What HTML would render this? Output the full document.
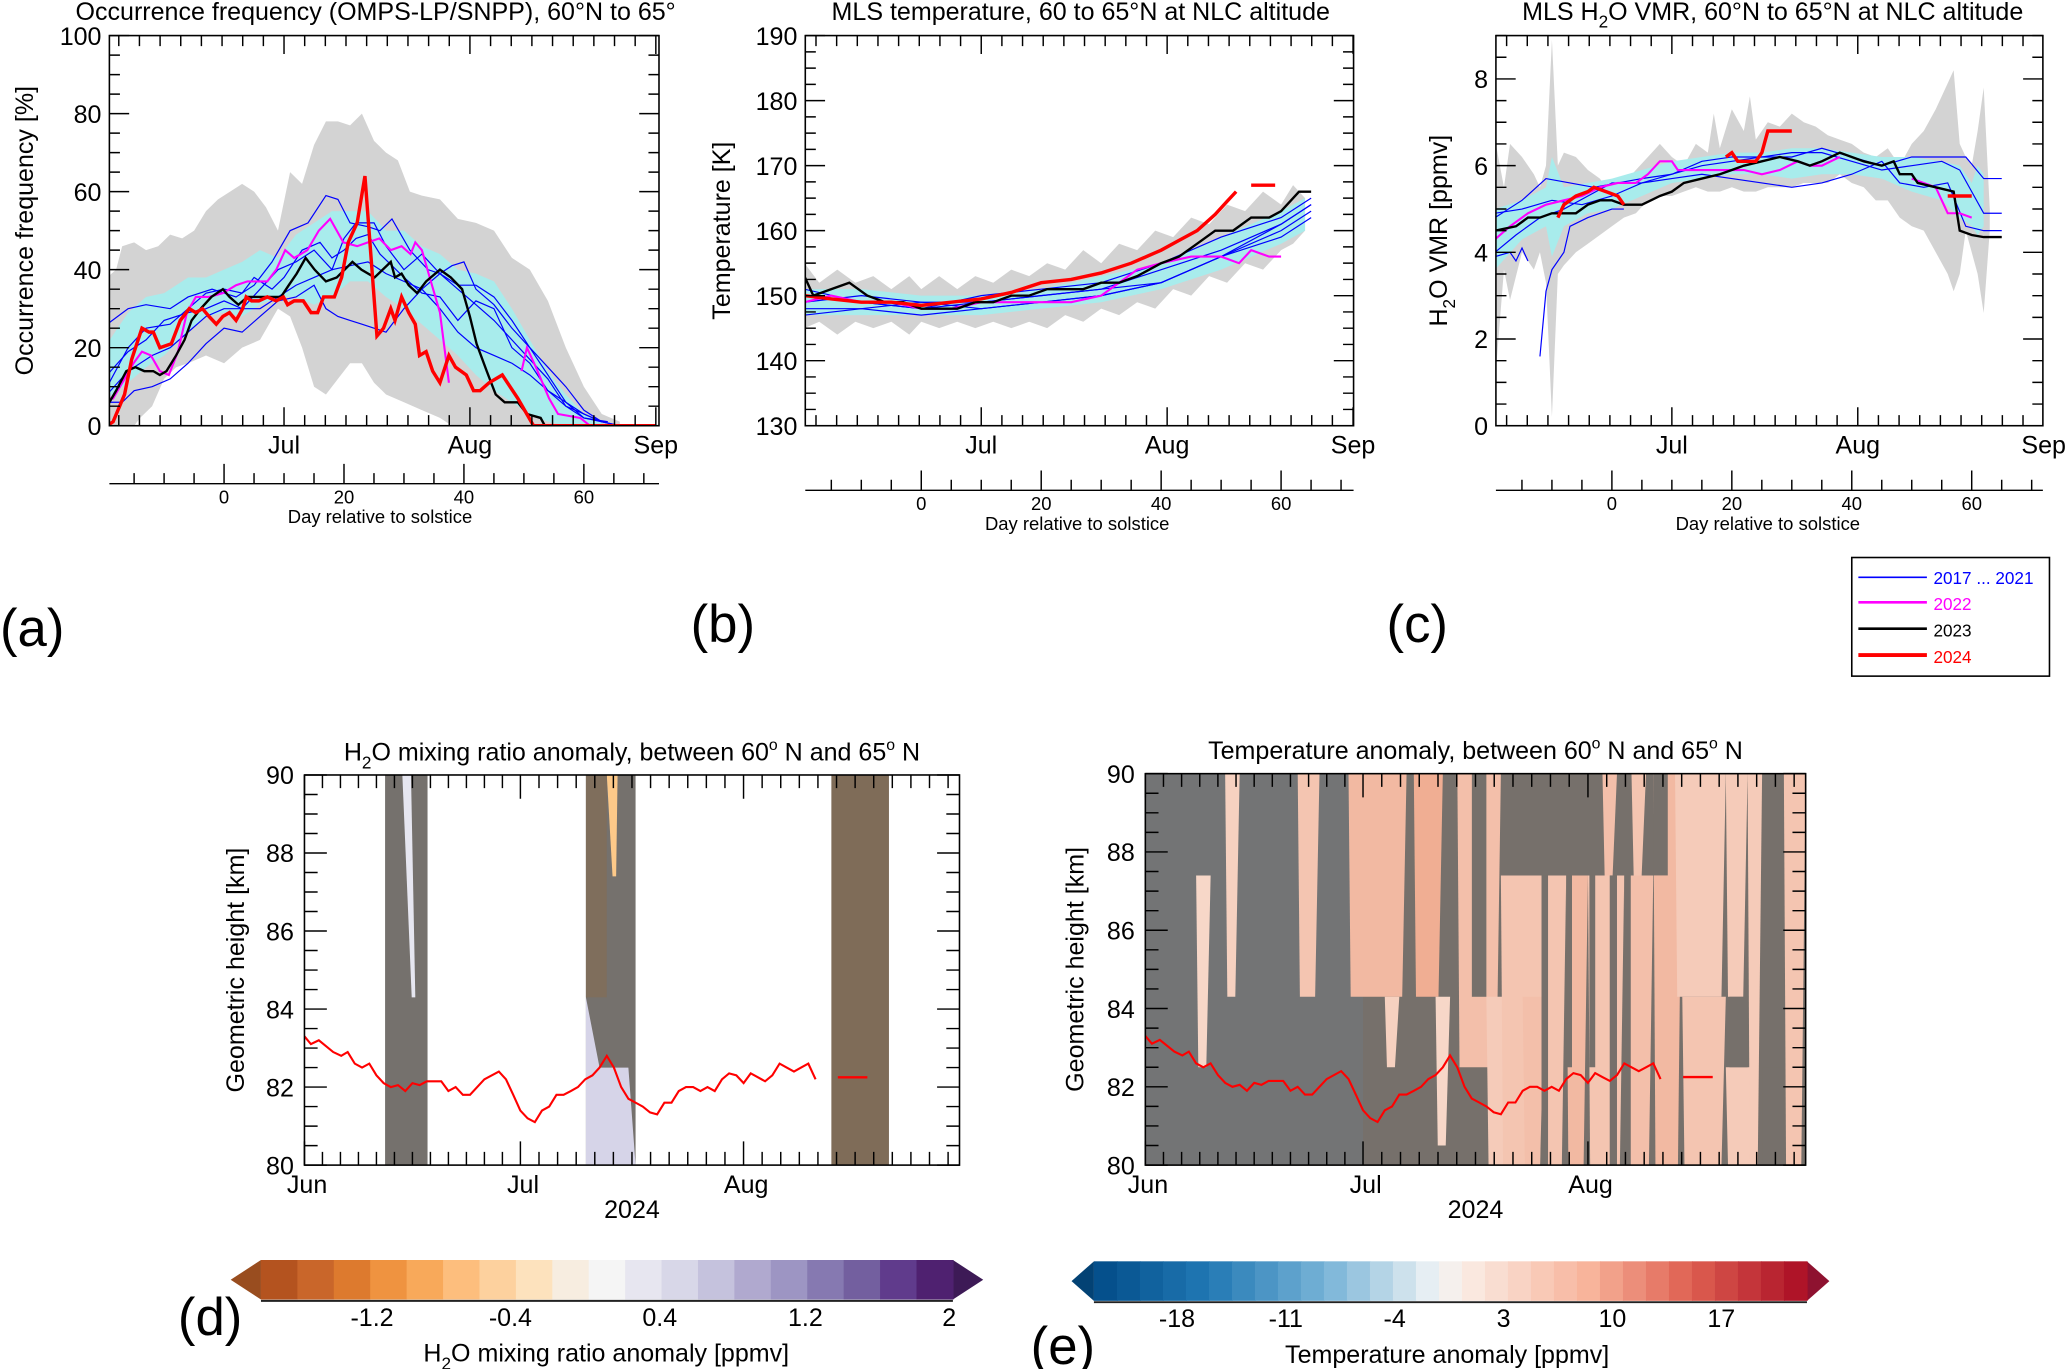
<!DOCTYPE html>
<html><head><meta charset="utf-8"><style>
html,body{margin:0;padding:0;background:#fff;}
svg{display:block;font-family:"Liberation Sans",sans-serif;}
</style></head><body>
<svg id="fig" width="2067" height="1369" viewBox="0 0 1568.3 1038.7" preserveAspectRatio="none" xmlns="http://www.w3.org/2000/svg">
<defs>
<clipPath id="ca"><rect x="83" y="27" width="417" height="296"/></clipPath>
<clipPath id="cb"><rect x="611" y="27" width="416" height="296"/></clipPath>
<clipPath id="cc"><rect x="1135" y="27" width="415" height="296"/></clipPath>
<clipPath id="cd"><rect x="231" y="588" width="497" height="296"/></clipPath>
<clipPath id="ce"><rect x="869" y="587" width="501" height="297"/></clipPath>
</defs>
<g id="root"></g>
<text x="0" y="490" font-size="40">(a)</text>
<text x="524" y="487" font-size="40">(b)</text>
<text x="1052" y="487" font-size="40">(c)</text>
<text x="135" y="1013" font-size="40">(d)</text>
<text x="782" y="1035" font-size="40">(e)</text>
<g>
<rect x="1405" y="423" width="150" height="90" fill="#fff" stroke="#000" stroke-width="1.2"/>
<line x1="1410" y1="438" x2="1462" y2="438" stroke="#0000ff" stroke-width="1.2"/>
<text x="1467" y="443" font-size="13" fill="#0000ff">2017 ... 2021</text>
<line x1="1410" y1="457" x2="1462" y2="457" stroke="#ff00ff" stroke-width="2"/>
<text x="1467" y="463" font-size="13" fill="#ff00ff">2022</text>
<line x1="1410" y1="477" x2="1462" y2="477" stroke="#000" stroke-width="2"/>
<text x="1467" y="483" font-size="13" fill="#000">2023</text>
<line x1="1410" y1="497" x2="1462" y2="497" stroke="#ff0000" stroke-width="3"/>
<text x="1467" y="503" font-size="13" fill="#ff0000">2024</text>
</g>
</svg>
<script>
// ---------- DATA ----------
const aRed=[[-19.5,0],[-18.5,1],[-16.6,8],[-15.4,17],[-13.7,25],[-12.5,24],[-11.8,24],[-10.7,20],[-8.8,21],[-7.3,27],[-5.8,30],[-4.7,29],[-3.6,30],[-2.5,28],[-1.3,26],[-0.2,28],[0.9,29],[2,27],[3.1,30],[3.7,33],[4.6,32],[5.8,32],[7.2,33],[8.7,32],[9.9,33],[10.6,31],[11.7,32],[13.2,32],[14.5,29],[15.6,29],[16.6,33],[18.4,33],[19.6,38],[20.7,47],[22.2,52],[23.5,64],[25.5,23],[26.6,25],[27.8,30],[28.5,27],[29.6,33],[30.8,29],[31.9,26],[32.6,18],[33.7,19],[34.8,14],[36,11],[37.5,18],[38.6,15],[40.4,13],[41.6,9],[42.7,9],[44.2,11],[46.4,13],[49,7],[51.6,0],[72,0]];
const aBlack=[[-19.5,5],[-18,9],[-16.3,14],[-14.8,15],[-13.3,14],[-11.8,14],[-10.7,13],[-9.6,14],[-8,18],[-6.6,22],[-5.4,27],[-3.9,30],[-2.1,33],[-0.2,35],[0.9,33],[2.4,31],[3.9,33],[9.5,33],[10.8,36],[12.1,39],[13.6,43],[15.1,40],[17,37],[18.8,38],[21.4,42],[22.9,40],[25.1,38],[27.8,42],[28.5,38],[29.6,39],[30.8,36],[32.2,34],[33.7,37],[36,40],[37.8,38],[39.7,35],[41,28],[42.1,21],[43.8,14],[45.3,8],[46.8,6],[49,6],[50.5,3],[52.8,2],[53.5,0]];
const aMag1=[[-19.5,7],[-18.5,7],[-16.6,12],[-15.1,16],[-13.7,19],[-12.2,18],[-10.7,14],[-9.2,13],[-7.7,19],[-6.2,29],[-4.7,33],[-2.5,33],[-0.2,34],[2,36],[3.9,37],[5.4,37],[7.2,37],[8.7,40],[10.2,45],[11.7,43],[13.9,45],[15.8,50],[17.7,53],[19.9,47],[22.2,46],[24,47],[25.9,48],[27.8,45],[29.6,46],[31.1,44],[31.9,47],[33,45],[34.1,39],[36,29],[37.5,11]];
const aMag2=[[49.6,14],[50.5,20],[52,15],[54.2,7],[55.7,3],[59.4,2],[61,0],[72,0]];
const aBlue=[
[[-19.5,26],[-16,30],[-13,31],[-9,30],[-6,33],[-2,35],[2,33],[5,36],[8,42],[11,50],[14,52],[17,59],[19,58],[21,52],[24,51],[26,50],[28,53],[31,45],[34,40],[36,39],[39,35],[42,31],[45,27],[48,22],[51,17],[54,12],[57,5],[60,3],[63,1],[66,0]],
[[-19.5,6],[-17,6],[-15,9],[-12,10],[-9,12],[-6,16],[-3,21],[0,25],[3,24],[6,28],[9,32],[12,33],[15,36],[17,30],[19,28],[21,27],[23,26],[25,25],[27,24],[30,30],[33,35],[36,39],[38,41],[40,42],[42,35],[45,31],[48,25],[51,20],[54,13],[57,6],[60,2],[63,1],[66,0]],
[[-19.5,10],[-16,20],[-13,25],[-9,26],[-6,30],[-3,34],[0,35],[3,34],[5,38],[8,35],[10,38],[13,45],[16,47],[18,43],[20,45],[22,48],[24,49],[26,44],[28,41],[30,38],[33,34],[36,33],[39,27],[42,32],[45,30],[48,20],[51,16],[54,9],[57,5],[60,2],[64,1]],
[[-19.5,13],[-16,19],[-13,22],[-10,27],[-6,29],[-3,30],[0,32],[3,30],[6,35],[9,40],[12,42],[15,45],[18,40],[20,48],[22,52],[25,52],[27,46],[30,40],[33,44],[36,39],[39,36],[42,36],[45,33],[48,27],[51,20],[54,15],[57,10],[60,4],[63,1]],
[[-19.5,8],[-16,14],[-12,18],[-9,20],[-6,24],[-3,28],[0,30],[3,30],[6,30],[9,33],[12,36],[15,38],[18,40],[21,41],[24,42],[27,39],[30,37],[33,35],[36,30],[39,24],[42,20],[45,18],[48,16],[51,13],[54,9],[57,6],[60,3],[63,1]]];
const aGrayUp=[[-19.5,38],[-18,40],[-17,46],[-15,47],[-13,45],[-11,46],[-9,49],[-7,48],[-5,50],[-3,55],[-1,58],[1,60],[3,62],[5,60],[7,56],[9,50],[11,65],[13,62],[15,72],[17,78],[19,78],[21,77],[23,80],[25,73],[27,70],[29,68],[31,60],[33,59],[36,58],[39,53],[42,52],[45,50],[48,43],[51,40],[54,32],[57,20],[60,10],[63,3],[66,1]];
const aGrayLo=[[-19.5,0],[-15,0],[-14,2],[-12,5],[-10,12],[-8,15],[-6,16],[-3,18],[0,16],[3,20],[6,22],[9,30],[11,28],[13,20],[15,10],[17,8],[19,12],[21,16],[23,16],[25,11],[27,8],[30,6],[33,4],[36,2],[38,0],[66,0]];
const aCyanUp=[[-19.5,21],[-16,29],[-13,33],[-10,34],[-6,38],[-3,38],[0,40],[3,42],[6,45],[9,43],[12,49],[15,52],[18,55],[21,55],[24,55],[27,50],[30,50],[33,46],[36,44],[39,40],[42,39],[45,37],[48,30],[51,22],[54,14],[57,8],[60,3],[63,1]];
const aCyanLo=[[-19.5,7],[-16,11],[-13,15],[-10,18],[-6,24],[-3,28],[0,29],[3,28],[6,31],[9,33],[12,33],[15,31],[18,33],[21,37],[24,37],[27,33],[30,30],[33,26],[36,22],[39,18],[42,13],[45,9],[48,6],[51,3],[54,1],[57,0],[63,0]];
const aYTicks=[0,20,40,60,80,100];
// Panel b
const bRed1=[[-19.5,150],[-15,149.5],[-10,149],[-5,149],[0,148.5],[5,149],[10,149.5],[15,150.5],[20,152],[25,152.5],[30,153.5],[35,155],[40,157],[43,158.5],[46,160],[49,162.5],[51,164.5],[52.5,166]];
const bRed2=[[55,167],[59,167]];
const bBlack=[[-19.5,153],[-18,150],[-15,151],[-12,152],[-9,150],[-6,149],[-3,149],[0,148],[3,148],[6,148],[9,149],[12,149],[15,150],[18,150],[21,151],[24,151],[27,151],[30,152],[33,152],[36,153],[40,155],[43,156],[46,158],[49,160],[52,160],[55,162],[58,162],[60,163],[63,166],[65,166]];
const bMag=[[-19.5,149],[-15,150],[-10,149],[-5,149],[0,148],[5,148],[10,149],[15,149],[20,149],[25,149],[30,150],[33,152],[36,154],[40,155],[45,156],[50,156],[53,155],[55,157],[58,156],[60,156]];
const bBlue=[
[[-19.5,147],[-10,148],[0,147],[10,148],[20,149],[30,150],[40,152],[50,156],[60,160],[65,163]],
[[-19.5,149],[-10,150],[0,149],[10,149],[20,150],[30,151],[40,154],[50,157],[60,161],[65,164]],
[[-19.5,151],[-10,149],[0,148],[10,150],[20,151],[30,152],[40,155],[50,159],[60,162],[65,165]],
[[-19.5,148],[-10,148],[0,149],[10,148],[20,149],[30,150],[40,152],[50,156],[60,159],[65,162]],
[[-19.5,150],[-10,149],[0,148],[10,149],[20,150],[30,151],[40,152],[50,156],[60,161],[65,164]]];
const bGrayUp=[[-19.5,155],[-17,152],[-14,154],[-11,152],[-8,153],[-5,151],[-2,153],[0,151],[3,153],[6,151],[9,153],[12,152],[15,154],[18,153],[21,155],[24,154],[27,157],[30,155],[33,158],[36,157],[39,160],[42,159],[45,162],[48,161],[51,164],[54,163],[57,166],[60,164],[62,167],[64,165]];
const bGrayLo=[[-19.5,145],[-17,146],[-14,144],[-11,146],[-8,145],[-5,146],[-2,144],[0,146],[3,145],[6,146],[9,145],[12,146],[15,145],[18,146],[21,145],[24,147],[27,146],[30,148],[33,147],[36,149],[39,148],[42,151],[45,150],[48,153],[51,152],[54,155],[57,154],[60,157],[62,158],[64,160]];
const bCyanUp=[[-19.5,151],[-10,151],[0,150],[10,150],[20,151],[30,153],[40,155],[50,159],[60,163],[64,165]];
const bCyanLo=[[-19.5,147],[-10,147],[0,147],[10,147],[20,148],[30,149],[40,151],[50,154],[60,158],[64,160]];
const bYTicks=[130,140,150,160,170,180,190];
// Panel c
const cRed=[[[-9,4.8],[-8,5.1],[-6,5.3],[-4,5.4],[-3,5.5],[-1,5.4],[1,5.3],[2,5.1]],[[19,6.2],[20,6.3],[21,6.1],[23,6.1],[24,6.1],[25,6.3],[26,6.8],[27,6.8],[30,6.8]],[[56,5.3],[60,5.3]]];
const cBlack=[[-19.5,4.5],[-16,4.6],[-14,4.8],[-12,4.8],[-10,4.9],[-8,4.9],[-6,4.9],[-4,5.1],[-2,5.2],[0,5.2],[2,5.1],[5,5.1],[8,5.3],[10,5.4],[12,5.6],[15,5.7],[18,5.8],[20,5.9],[22,6.0],[25,6.1],[28,6.2],[31,6.1],[33,6.0],[35,6.1],[38,6.3],[40,6.2],[42,6.1],[45,6.0],[47,6.1],[48,5.8],[50,5.8],[51,5.6],[54,5.5],[57,5.4],[58,4.5],[60,4.4],[62,4.35],[65,4.35]];
const cMag=[[[-19.5,4.3],[-17,4.6],[-14,4.9],[-11,5.1],[-8,5.2],[-5,5.3],[-2,5.5],[1,5.6],[4,5.6],[6,5.8],[8,6.1],[10,6.1],[11,5.9],[13,5.9],[16,5.9],[19,5.9],[22,5.9],[25,5.8],[28,5.9],[31,6.1],[33,6.0],[35,6.0],[38,6.2]],[[50,5.7],[52,5.6],[54,5.5],[56,4.9],[58,4.9],[60,4.8]]];
const cBlue=[
[[-19.5,4.8],[-15,5.2],[-11,5.7],[-7,5.6],[-3,5.5],[1,5.6],[5,5.7],[10,5.8],[15,6.1],[20,6.2],[25,6.2],[30,6.2],[35,6.4],[40,6.2],[45,6.0],[50,6.2],[55,6.2],[59,6.2],[62,5.7],[65,5.7]],
[[-19.5,4.0],[-16,4.4],[-12,4.8],[-8,5.0],[-4,5.3],[0,5.6],[5,5.6],[10,5.8],[15,6.0],[20,6.1],[25,6.2],[30,6.3],[35,6.3],[40,6.1],[45,5.9],[50,6.0],[55,6.1],[58,5.9],[62,4.9],[65,4.9]],
[[-12,1.6],[-11,3.1],[-10,3.6],[-8,4.0],[-7,4.6],[-4,4.8],[0,5.0],[2,5.0]],
[[-19.5,3.9],[-17,4.0],[-16,3.8],[-15,4.1],[-14,3.8]],
[[-19.5,4.9],[-15,5.0],[-10,5.2],[-5,5.1],[0,5.3],[5,5.6],[10,5.7],[15,5.8],[20,5.7],[25,5.6],[30,5.5],[35,5.6],[40,5.8],[45,6.1],[48,5.6],[52,5.5],[56,5.6],[59,4.6],[62,4.5],[65,4.5]]];
const cGrayUp=[[-19.5,6.6],[-18,5.5],[-17,6.5],[-15,6.2],[-13,5.8],[-12,5.5],[-11,6.0],[-10,8.9],[-9,6],[-8,6.3],[-6,6.2],[-4,5.9],[-2,5.7],[0,5.3],[2,5.6],[4,5.9],[6,6.2],[8,6.5],[10,6.2],[12,6.0],[14,6.5],[16,6.3],[17,7.2],[18,6.4],[20,7.3],[22,6.8],[23,7.6],[24,6.6],[26,7.0],[28,6.9],[30,7.2],[32,7.0],[34,6.9],[36,6.7],[38,6.6],[40,6.5],[42,6.3],[44,6.2],[46,6.4],[48,6.0],[50,6.5],[52,6.8],[54,7.3],[56,7.9],[57,8.2],[58,6.5],[59,6.2],[60,6.0],[61,6.8],[62,7.8],[63,5.0]];
const cGrayLo=[[-19.5,1.0],[-18,3.6],[-17,2.9],[-15,4.0],[-13,3.6],[-12,4.0],[-11,3.3],[-10,0.2],[-9,3.5],[-8,3.7],[-6,4.0],[-4,4.2],[-2,4.4],[0,4.6],[2,4.8],[4,4.9],[6,5.2],[8,5.3],[10,5.3],[12,5.4],[14,5.5],[16,5.4],[18,5.4],[20,5.5],[22,5.4],[24,5.4],[26,5.5],[28,5.5],[30,5.5],[32,5.6],[34,5.6],[36,5.6],[38,5.8],[40,5.6],[42,5.5],[44,5.2],[46,5.2],[48,4.8],[50,4.6],[52,4.5],[54,4.0],[56,3.5],[57,3.1],[58,3.5],[59,4.5],[60,4.0],[61,3.5],[62,2.6],[63,4.5]];
const cCyanUp=[[-19.5,5.0],[-15,5.2],[-11,5.5],[-10,6.2],[-8,5.5],[-4,5.6],[0,5.7],[5,5.9],[10,6.1],[15,6.2],[20,6.3],[25,6.3],[30,6.4],[35,6.4],[40,6.3],[45,6.2],[50,6.2],[55,6.1],[58,6.0],[60,5.6],[61,6.0],[62,5.8]];
const cCyanLo=[[-19.5,3.6],[-15,4.3],[-11,4.6],[-10,3.9],[-8,4.6],[-4,4.9],[0,5.0],[5,5.3],[10,5.6],[15,5.7],[20,5.8],[25,5.8],[30,5.7],[35,5.8],[40,5.8],[45,5.7],[50,5.4],[55,5.2],[58,4.8],[60,4.6],[61,4.4],[62,4.6]];
const cYTicks=[0,2,4,6,8];
// Panels d/e
const nlcDays=[0,0.9,2,4,5.1,6,7,8,9,10,11,12,13,14,15,16,17,19,20,21,22,23,25,27,28,29,30,31,32,33,34,35,36,37,38,39,40,41,42,43,44,45,46,47,48,49,50,51,52,53,54,55,56,57,58,59,60,61,62,63,64,65,66,67,68,69,70,71];
const nlcKm=[83.3,83.1,83.2,82.9,82.8,82.9,82.6,82.5,82.6,82.3,82.1,82.0,82.05,81.9,82.1,82.05,82.15,82.15,81.9,82,81.8,81.8,82.2,82.4,82.2,81.8,81.4,81.2,81.1,81.4,81.5,81.8,81.8,81.9,82.0,82.2,82.3,82.5,82.8,82.5,82.0,81.7,81.6,81.5,81.35,81.3,81.6,81.6,81.9,82,82,81.9,82,81.9,82.2,82.35,82.3,82.1,82.35,82.25,82.15,82.3,82.6,82.5,82.4,82.5,82.6,82.2];
const nlcTailDays=[74.1,78.2];
const nlcTailKm=[82.25,82.25];
const dCols=[[11.2,17.1],[39.1,46],[73.2,81.2]];
const eRegions=[[7,9,87.4,82.5,3],[11,13,90,84.3,4],[21,24,90,84.3,6],[28,36,90,84.3,8],[33,35,84.3,82.5,4],[37,41,90,84.3,10],[40,42,84.3,80.5,3],[43,49,90,82.5,7],[47,52,84.3,80,5],[49,55,87.4,80,6],[52,55,84.3,80,7],[55,58,87.4,80,6],[58,61,87.4,80,8],[61,66,87.4,80,6],[63,65,90,87.4,7],[66,70,87.4,80,7],[67,69,90,87.4,6],[70,74,90,80,8],[73,80,90,84.3,5],[74,80,84.3,80,6],[80,83,90,84.3,5],[80,84,82.5,80,5],[83,85,90,80,5],[88,91,90,80,6]];
const eDark=[[45,47,90,84.3],[54.6,55.5,87.4,80],[58,58.8,87.4,82.5],[61.2,62,87.4,82.5],[64,65,87.4,80],[66,66.9,87.4,80],[70,72,90,87.4],[80.5,83,84.3,82.5],[85,88,82.5,80]];
const dBarLabels=["-1.2","-0.4","0.4","1.2","2"];
const dBarLabelPos=[3.05,6.85,10.95,14.95,18.9];
const eBarLabels=["-18","-11","-4","3","10","17"];
const eBarLabelVals=[-18,-11,-4,3,10,17];

// ---------- DRAWING ----------
const NS="http://www.w3.org/2000/svg";
const root=document.getElementById('root');
function mk(parent,tag,attrs,name,inter){
  const el=document.createElementNS(NS,tag);
  for(const k in attrs) el.setAttribute(k,attrs[k]);
  
  
  parent.appendChild(el);return el;
}
function txt(parent,x,y,s,size,name,anchor,extra){
  const t=mk(parent,'text',Object.assign({x:x,y:y,'font-size':size,'text-anchor':anchor||'middle'},extra||{}),name,false);
  t.textContent=s;return t;
}
function line(pts,sx,sy){return pts.map((p,i)=>(i?'L':'M')+sx(p[0]).toFixed(1)+' '+sy(p[1]).toFixed(1)).join('');}
function band(up,lo,sx,sy){return line(up,sx,sy)+lo.slice().reverse().map(p=>'L'+sx(p[0]).toFixed(1)+' '+sy(p[1]).toFixed(1)).join('')+'Z';}

function topPanel(o){
  const g=mk(root,'g',{},o.name,false);
  const sx=d=>o.x0+d*4.55;
  const sy=v=>323-(v-o.ymin)/(o.ymax-o.ymin)*296;
  const pg=mk(g,'g',{'clip-path':'url(#'+o.clip+')'},'plot-area',false);
  mk(pg,'path',{d:band(o.gu,o.gl,sx,sy),fill:'#d3d3d3'},'min-max-range',false);
  mk(pg,'path',{d:band(o.cu,o.cl,sx,sy),fill:'#a8ecec'},'std-dev-range',false);
  o.blue.forEach(s=>mk(pg,'path',{d:line(s,sx,sy),fill:'none',stroke:'#0000ff','stroke-width':0.9},'line-2017-2021',false));
  o.mag.forEach(s=>mk(pg,'path',{d:line(s,sx,sy),fill:'none',stroke:'#ff00ff','stroke-width':1.6},'line-2022',false));
  o.black.forEach(s=>mk(pg,'path',{d:line(s,sx,sy),fill:'none',stroke:'#000','stroke-width':1.8},'line-2023',false));
  o.red.forEach(s=>mk(pg,'path',{d:line(s,sx,sy),fill:'none',stroke:'#ff0000','stroke-width':2.6},'line-2024',false));
  const L=o.L,R=L+o.W;
  mk(g,'rect',{x:L,y:27,width:o.W,height:296,fill:'none',stroke:'#000','stroke-width':1.2},'plot-frame',false);
  let tk='';
  const step=o.ticks[1]-o.ticks[0], minor=step/4;
  for(let v=o.ymin;v<=o.ymax+1e-6;v+=minor){const y=sy(v);const maj=Math.abs((v-o.ymin)/step-Math.round((v-o.ymin)/step))<1e-6;const len=maj?15:8;tk+=`M${L} ${y}h${len}M${R} ${y}h${-len}`;}
  for(let m=-1;m<=2;m++){for(let k=0;k<9;k++){const d=10+m*31+k*31/9;const x=sx(d);if(x<L-0.5||x>R+0.5)continue;const len=k===0?14:8;tk+=`M${x} 323v${-len}M${x} 27v${len}`;}}
  mk(g,'path',{d:tk,stroke:'#000','stroke-width':1.1,fill:'none'},'axis-ticks',false);
  o.ticks.forEach(v=>txt(g,L-6,sy(v)+7,String(v),19,'y-tick-label','end'));
  [['Jul',10],['Aug',41],['Sep',72]].forEach(m=>txt(g,sx(m[1]),344,m[0],19,'x-month-label'));
  let dk=`M${L} ${o.dy}H${R}`;
  for(let d=-15;d<=70;d+=5){const x=sx(d);dk+=`M${x} ${o.dy}v${d%20===0?-15:-8}`;}
  mk(g,'path',{d:dk,stroke:'#000','stroke-width':1.1,fill:'none'},'day-axis',false);
  [0,20,40,60].forEach(d=>txt(g,sx(d),o.dy+15,String(d),14,'day-tick-label'));
  txt(g,sx(26),o.dy+30,'Day relative to solstice',14,'day-axis-title');
  const yt=txt(g,o.ytx,175,'',19,'y-axis-title','middle',{transform:`rotate(-90 ${o.ytx} 175)`});
  yt.innerHTML=o.ytitle;
  const tt=txt(g,o.tx,15,'',19,'panel-title');tt.innerHTML=o.title;
}
topPanel({name:'panel-a-occurrence',x0:170,L:83,W:417,ymin:0,ymax:100,ticks:aYTicks,clip:'ca',gu:aGrayUp,gl:aGrayLo,cu:aCyanUp,cl:aCyanLo,blue:aBlue,mag:[aMag1,aMag2],black:[aBlack],red:[aRed],dy:367,ytx:25,ytitle:'Occurrence frequency [%]',tx:285,title:'Occurrence frequency (OMPS-LP/SNPP), 60°N to 65°'});
topPanel({name:'panel-b-temperature',x0:699,L:611,W:416,ymin:130,ymax:190,ticks:bYTicks,clip:'cb',gu:bGrayUp,gl:bGrayLo,cu:bCyanUp,cl:bCyanLo,blue:bBlue,mag:[bMag],black:[bBlack],red:[bRed1,bRed2],dy:372,ytx:554,ytitle:'Temperature [K]',tx:820,title:'MLS temperature, 60 to 65°N at NLC altitude'});
topPanel({name:'panel-c-h2o',x0:1223,L:1135,W:415,ymin:0,ymax:9,ticks:cYTicks,clip:'cc',gu:cGrayUp,gl:cGrayLo,cu:cCyanUp,cl:cCyanLo,blue:cBlue,mag:cMag,black:[cBlack],red:cRed,dy:372,ytx:1098,ytitle:'H<tspan dy="6" font-size="13">2</tspan><tspan dy="-6">O VMR [ppmv]</tspan>',tx:1345,title:'MLS H<tspan dy="6" font-size="13">2</tspan><tspan dy="-6">O VMR, 60°N to 65°N at NLC altitude</tspan>'});

function botPanel(o){
  const g=mk(root,'g',{},o.name,false);
  const sx=d=>o.L+d*(o.W/91);
  const sy=v=>o.B-(v-80)/10*(o.B-o.T);
  const pg=mk(g,'g',{'clip-path':'url(#'+o.clip+')'},'plot-area',false);
  o.draw(pg,sx,sy);
  const nlc=nlcDays.map((d,i)=>[d,nlcKm[i]]);
  mk(pg,'path',{d:line(nlc,sx,sy),fill:'none',stroke:'#ff0000','stroke-width':1.6},'nlc-altitude-line',false);
  mk(pg,'path',{d:line(nlcTailDays.map((d,i)=>[d,nlcTailKm[i]]),sx,sy),fill:'none',stroke:'#ff0000','stroke-width':1.8},'nlc-altitude-segment',false);
  const L=o.L,R=o.L+o.W;
  mk(g,'rect',{x:L,y:o.T,width:o.W,height:o.B-o.T,fill:'none',stroke:'#000','stroke-width':1.2},'plot-frame',false);
  let tk='';
  for(let v=80;v<=90.001;v+=0.5){const y=sy(v);const maj=Math.abs(v/2-Math.round(v/2))<1e-6;const len=maj?17:10;tk+=`M${L} ${y}h${len}M${R} ${y}h${-len}`;}
  for(let m=0;m<3;m++){const md=[0,30,61][m],ml=[30,31,31][m];for(let k=0;k<12;k++){const x=sx(md+k*ml/12);const len=k===0?18:10;tk+=`M${x} ${o.B}v${-len}M${x} ${o.T}v${len}`;}}
  mk(g,'path',{d:tk,stroke:'#000','stroke-width':1.1,fill:'none'},'axis-ticks',false);
  [80,82,84,86,88,90].forEach(v=>txt(g,L-8,sy(v)+7,String(v),19,'y-tick-label','end'));
  [['Jun',0],['Jul',30],['Aug',61]].forEach(m=>txt(g,sx(m[1])+2,o.B+21,m[0],19,'x-month-label'));
  txt(g,sx(45.5),o.B+40,'2024',19,'x-year-label');
  txt(g,o.ytx,(o.T+o.B)/2,'Geometric height [km]',19,'y-axis-title','middle',{transform:`rotate(-90 ${o.ytx} ${(o.T+o.B)/2})`});
  const tt=txt(g,(L+R)/2,o.T-11,'',19,'panel-title');tt.innerHTML=o.title;
}
botPanel({name:'panel-d-h2o-anomaly',L:231,W:497,T:588,B:884,clip:'cd',ytx:185,
 title:'H<tspan dy="6" font-size="13">2</tspan><tspan dy="-6">O mixing ratio anomaly, between 60</tspan><tspan dy="-8" font-size="12">o</tspan><tspan dy="8"> N and 65</tspan><tspan dy="-8" font-size="12">o</tspan><tspan dy="8"> N</tspan>',
 draw:(pg,sx,sy)=>{
  dCols.forEach((c,i)=>mk(pg,'rect',{x:sx(c[0]),y:sy(90),width:sx(c[1])-sx(c[0]),height:sy(80)-sy(90),fill:i===2?'#7f6c58':'#75716d'},'data-column',false));
  mk(pg,'path',{d:`M${sx(13.6)} ${sy(90)}L${sx(14.8)} ${sy(90)}L${sx(15.4)} ${sy(84.3)}L${sx(14.9)} ${sy(84.3)}Z`,fill:'#e6e6f0'},'positive-anomaly',false);
  mk(pg,'path',{d:`M${sx(39.1)} ${sy(84.3)}L${sx(41)} ${sy(82.5)}L${sx(45)} ${sy(82.5)}L${sx(46)} ${sy(80)}L${sx(39.1)} ${sy(80)}Z`,fill:'#d6d4e8'},'positive-anomaly',false);
  mk(pg,'path',{d:`M${sx(42)} ${sy(90)}L${sx(43.5)} ${sy(90)}L${sx(43.3)} ${sy(87.4)}L${sx(42.8)} ${sy(87.4)}Z`,fill:'#fdc989'},'negative-anomaly',false);
  mk(pg,'rect',{x:sx(39.1),y:sy(90),width:sx(42)-sx(39.1),height:sy(84.3)-sy(90),fill:'#7f6e5c'},'negative-anomaly',false);
 }});
botPanel({name:'panel-e-temperature-anomaly',L:869,W:501,T:587,B:884,clip:'ce',ytx:822,
 title:'Temperature anomaly, between 60<tspan dy="-8" font-size="12">o</tspan><tspan dy="8"> N and 65</tspan><tspan dy="-8" font-size="12">o</tspan><tspan dy="8"> N</tspan>',
 draw:(pg,sx,sy)=>{
  mk(pg,'rect',{x:869,y:587,width:501,height:297,fill:'#76706b'},'no-data-background',false);
  mk(pg,'rect',{x:869,y:587,width:sx(30)-869,height:297,fill:'#737475'},'no-data-background',false);
  eRegions.forEach(r=>{const t=Math.min(1,r[4]/12);const c=`rgb(${Math.round(250-t*12)},${Math.round(232-t*70)},${Math.round(222-t*90)})`;
   mk(pg,'path',{d:`M${sx(r[0])} ${sy(r[2])}L${sx(r[1])} ${sy(r[2])}L${sx(r[1]-0.6)} ${sy(r[3])}L${sx(r[0]+0.3)} ${sy(r[3])}Z`,fill:c},'positive-anomaly-region',false);});
  eDark.forEach(r=>mk(pg,'rect',{x:sx(r[0]),y:sy(r[2]),width:sx(r[1])-sx(r[0]),height:sy(r[3])-sy(r[2]),fill:'#76706b'},'no-data-region',false));
 }});

const dColors=['#b4531f','#c9662a','#dd7a2e','#ef9340','#f8a95a','#fdbe7d','#fdd19e','#fde2bd','#f7ede0','#f5f5f5','#e7e6f0','#d8d7e8','#c5c2dd','#b0a9cf','#9d95c3','#8679b1','#735f9f','#603b8c','#4f2170'];
(function(){
  const g=mk(root,'g',{},'colorbar-h2o',false);
  const x0=198,x1=723,y0=956,y1=986,w=(x1-x0)/dColors.length;
  mk(g,'path',{d:`M${x0} ${y0}L175 ${(y0+y1)/2}L${x0} ${y1}Z`,fill:'#994d1f'},'colorbar-low-extend',false);
  mk(g,'path',{d:`M${x1} ${y0}L746 ${(y0+y1)/2}L${x1} ${y1}Z`,fill:'#3d1a56'},'colorbar-high-extend',false);
  dColors.forEach((c,i)=>mk(g,'rect',{x:x0+i*w,y:y0,width:w+0.5,height:y1-y0,fill:c},'colorbar-segment',false));
  mk(g,'line',{x1:x0,y1:y1+1,x2:x1,y2:y1+1,stroke:'#222','stroke-width':1.5},'colorbar-baseline',false);
  dBarLabels.forEach((s,i)=>txt(g,x0+dBarLabelPos[i]*w,1006,s,19,'colorbar-tick-label'));
  const t=txt(g,460,1033,'',19,'colorbar-title');t.innerHTML='H<tspan dy="6" font-size="13">2</tspan><tspan dy="-6">O mixing ratio anomaly [ppmv]</tspan>';
})();
(function(){
  const g=mk(root,'g',{},'colorbar-temperature',false);
  const x0=830,x1=1371,y0=957,y1=987,n=31,w=(x1-x0)/n;
  const stops=[[0,[5,80,140]],[0.15,[33,120,180]],[0.32,[120,180,215]],[0.48,[240,243,245]],[0.52,[250,236,228]],[0.7,[248,180,155]],[0.85,[222,95,80]],[1,[175,20,40]]];
  function col(t){for(let i=1;i<stops.length;i++){if(t<=stops[i][0]){const a=stops[i-1],b=stops[i],f=(t-a[0])/(b[0]-a[0]);return 'rgb('+a[1].map((v,k)=>Math.round(v+(b[1][k]-v)*f)).join(',')+')';}}return 'rgb(175,20,40)';}
  mk(g,'path',{d:`M${x0} ${y0}L813 ${(y0+y1)/2}L${x0} ${y1}Z`,fill:'#034274'},'colorbar-low-extend',false);
  mk(g,'path',{d:`M${x1} ${y0}L1388 ${(y0+y1)/2}L${x1} ${y1}Z`,fill:'#8e1230'},'colorbar-high-extend',false);
  for(let i=0;i<n;i++) mk(g,'rect',{x:x0+i*w,y:y0,width:w+0.5,height:y1-y0,fill:col(i/(n-1))},'colorbar-segment',false);
  mk(g,'line',{x1:x0,y1:y1+1,x2:x1,y2:y1+1,stroke:'#222','stroke-width':1.5},'colorbar-baseline',false);
  const ex=v=>893+(v+18)*(1306-893)/35;
  eBarLabels.forEach((s,i)=>txt(g,ex(eBarLabelVals[i]),1007,s,19,'colorbar-tick-label'));
  txt(g,1098,1034,'Temperature anomaly [ppmv]',19,'colorbar-title');
})();
</script>
</body></html>
